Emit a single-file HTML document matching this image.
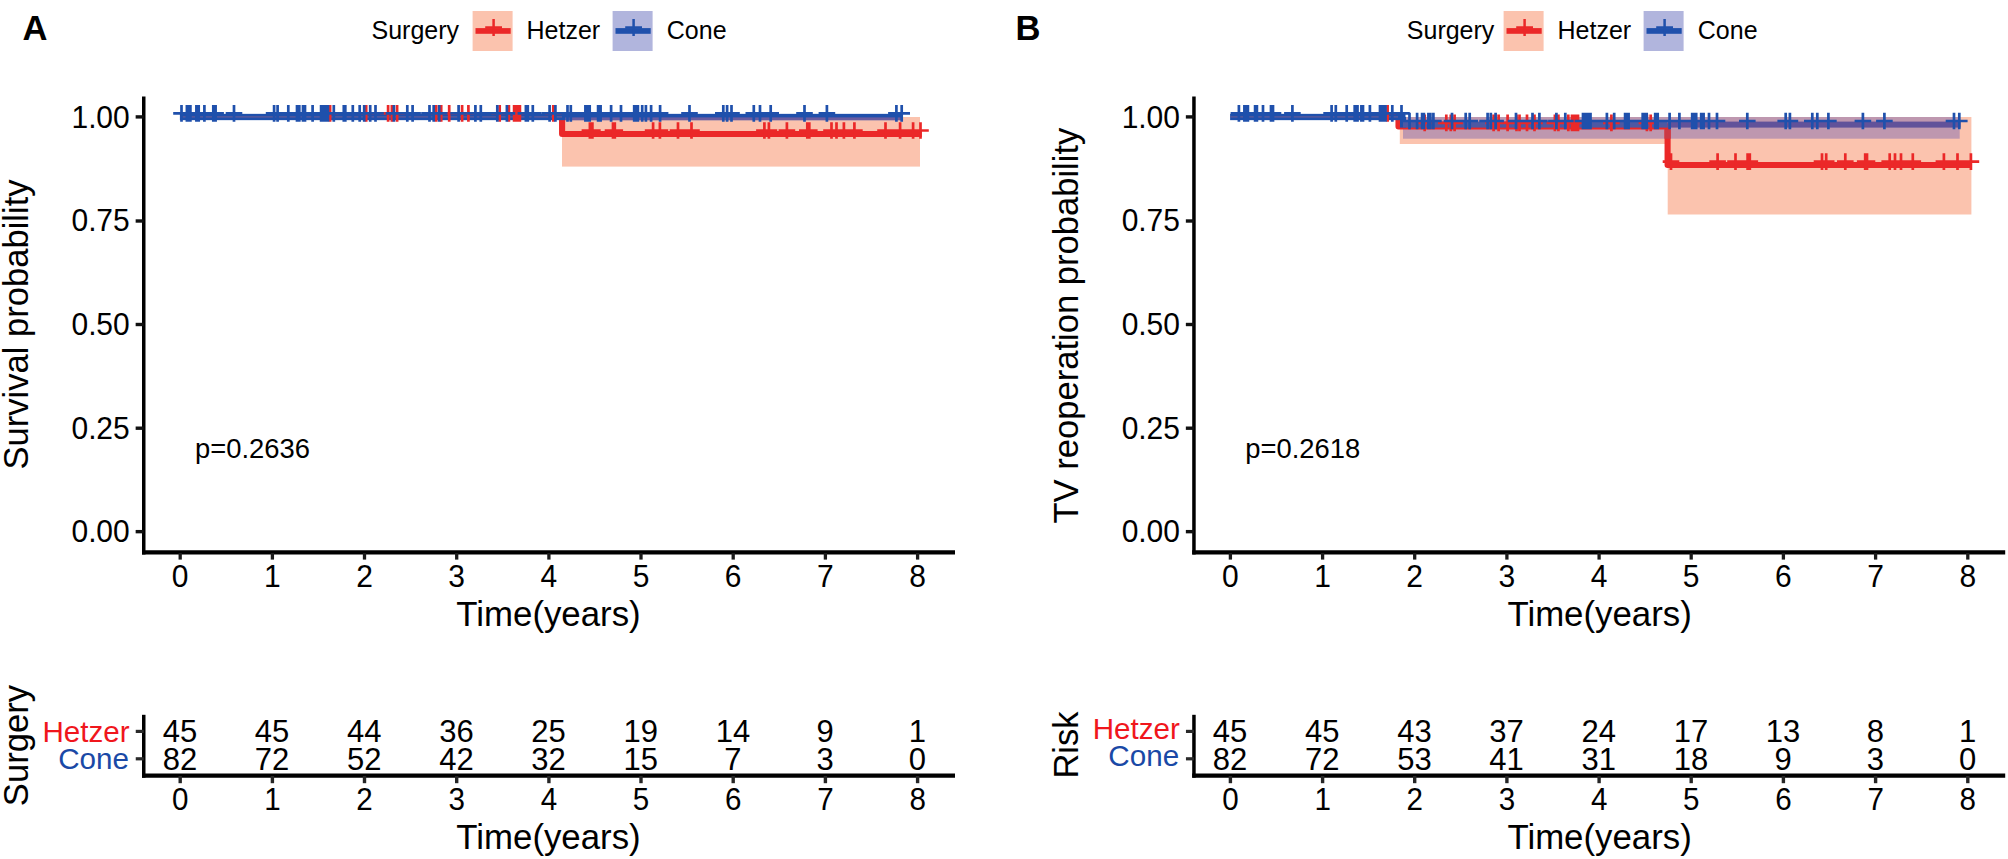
<!DOCTYPE html>
<html lang="en"><head><meta charset="utf-8"><title>Kaplan-Meier curves: Hetzer vs Cone</title>
<style>
html,body{margin:0;padding:0;background:#fff}
body{width:2008px;height:859px;overflow:hidden}
svg{display:block}
svg text{font-family:"Liberation Sans",sans-serif}
</style></head><body>
<svg width="2008" height="859" viewBox="0 0 2008 859">
<rect width="2008" height="859" fill="#fff"/>
<text x="22.5" y="40" font-size="34.6" text-anchor="start" fill="#000" font-weight="bold">A</text>
<text x="371.5" y="39.2" font-size="25" text-anchor="start" fill="#000" >Surgery</text>
<rect x="472.6" y="11" width="40" height="40" fill="#FBC3AE"/>
<rect x="475.5" y="28.1" width="35.2" height="5.7" fill="#EB2828"/>
<path d="M485.2 27.5H502.0M493.6 19.0V36.0" stroke="#EB2828" stroke-width="2.5" fill="none"/>
<text x="526.5" y="39.2" font-size="25" text-anchor="start" fill="#000" >Hetzer</text>
<rect x="612.6" y="11" width="40" height="40" fill="#B1B5DD"/>
<rect x="615.5" y="28.1" width="35.2" height="5.7" fill="#1F50AC"/>
<path d="M625.2 27.5H642.0M633.6 19.0V36.0" stroke="#1F50AC" stroke-width="2.5" fill="none"/>
<text x="666.8" y="39.2" font-size="25" text-anchor="start" fill="#000" >Cone</text>
<rect x="562" y="117" width="358" height="49.6" fill="#FBC3AE"/>
<path d="M562.1 116.9V134.0H921.8" stroke="#EB2828" stroke-width="6.1" fill="none" stroke-linejoin="round"/>
<rect x="179.9" y="113.85" width="723.1" height="6.3" fill="#1F50AC"/>
<rect x="565.2" y="117.4" width="337.8" height="2.75" fill="#6A5BA0"/>
<rect x="180.2" y="116.6" width="381.8" height="0.7" fill="#96628A"/>
<path d="M581.6 130.5H598.2M589.9 122.2V138.8M584.1 130.5H600.7M592.4 122.2V138.8M604.7 130.5H621.3M613.0 122.2V138.8M606.5 130.5H623.1M614.8 122.2V138.8M644.8 130.5H661.4M653.1 122.2V138.8M651.6 130.5H668.2M659.9 122.2V138.8M669.7 130.5H686.3M678.0 122.2V138.8M683.2 130.5H699.8M691.5 122.2V138.8M756.1 130.5H772.7M764.4 122.2V138.8M760.6 130.5H777.2M768.9 122.2V138.8M778.6 130.5H795.2M786.9 122.2V138.8M799.0 130.5H815.6M807.3 122.2V138.8M801.0 130.5H817.6M809.3 122.2V138.8M823.2 130.5H839.8M831.5 122.2V138.8M828.2 130.5H844.8M836.5 122.2V138.8M835.6 130.5H852.2M843.9 122.2V138.8M846.1 130.5H862.7M854.4 122.2V138.8M877.2 130.5H893.8M885.5 122.2V138.8M891.8 130.5H908.4M900.1 122.2V138.8M904.8 130.5H921.4M913.1 122.2V138.8M912.2 130.5H928.8M920.5 122.2V138.8" stroke="#EB2828" stroke-width="2.7" fill="none"/>
<path d="M321.8 113.4H338.4M330.1 105.1V121.7M357.9 113.4H374.5M366.2 105.1V121.7M379.8 113.4H396.4M388.1 105.1V121.7M383.6 113.4H400.2M391.9 105.1V121.7M388.8 113.4H405.4M397.1 105.1V121.7M427.9 113.4H444.5M436.2 105.1V121.7M432.9 113.4H449.5M441.2 105.1V121.7M440.9 113.4H457.5M449.2 105.1V121.7M453.8 113.4H470.4M462.1 105.1V121.7M460.1 113.4H476.7M468.4 105.1V121.7M491.4 113.4H508.0M499.7 105.1V121.7M500.6 113.4H517.2M508.9 105.1V121.7M505.8 113.4H522.4M514.1 105.1V121.7M507.6 113.4H524.2M515.9 105.1V121.7M509.6 113.4H526.2M517.9 105.1V121.7M511.6 113.4H528.2M519.9 105.1V121.7M545.0 113.4H561.6M553.3 105.1V121.7" stroke="#EB2828" stroke-width="2.7" fill="none"/>
<path d="M173.2 113.4H189.8M181.5 105.1V121.7M178.6 113.4H195.2M186.9 105.1V121.7M180.4 113.4H197.0M188.7 105.1V121.7M182.1 113.4H198.7M190.4 105.1V121.7M188.1 113.4H204.7M196.4 105.1V121.7M190.4 113.4H207.0M198.7 105.1V121.7M196.1 113.4H212.7M204.4 105.1V121.7M205.0 113.4H221.6M213.3 105.1V121.7M207.3 113.4H223.9M215.6 105.1V121.7M225.7 113.4H242.3M234.0 105.1V121.7M265.8 113.4H282.4M274.1 105.1V121.7M269.3 113.4H285.9M277.6 105.1V121.7M280.0 113.4H296.6M288.3 105.1V121.7M288.7 113.4H305.3M297.0 105.1V121.7M291.0 113.4H307.6M299.3 105.1V121.7M294.7 113.4H311.3M303.0 105.1V121.7M296.7 113.4H313.3M305.0 105.1V121.7M304.3 113.4H320.9M312.6 105.1V121.7M312.8 113.4H329.4M321.1 105.1V121.7M314.6 113.4H331.2M322.9 105.1V121.7M316.4 113.4H333.0M324.7 105.1V121.7M318.1 113.4H334.7M326.4 105.1V121.7M319.6 113.4H336.2M327.9 105.1V121.7M325.5 113.4H342.1M333.8 105.1V121.7M335.5 113.4H352.1M343.8 105.1V121.7M337.0 113.4H353.6M345.3 105.1V121.7M344.5 113.4H361.1M352.8 105.1V121.7M351.4 113.4H368.0M359.7 105.1V121.7M355.9 113.4H372.5M364.2 105.1V121.7M361.9 113.4H378.5M370.2 105.1V121.7M367.2 113.4H383.8M375.5 105.1V121.7M385.6 113.4H402.2M393.9 105.1V121.7M399.0 113.4H415.6M407.3 105.1V121.7M404.3 113.4H420.9M412.6 105.1V121.7M421.2 113.4H437.8M429.5 105.1V121.7M425.4 113.4H442.0M433.7 105.1V121.7M430.9 113.4H447.5M439.2 105.1V121.7M450.3 113.4H466.9M458.6 105.1V121.7M467.1 113.4H483.7M475.4 105.1V121.7M472.5 113.4H489.1M480.8 105.1V121.7M489.0 113.4H505.6M497.3 105.1V121.7M498.6 113.4H515.2M506.9 105.1V121.7M517.6 113.4H534.2M525.9 105.1V121.7M519.5 113.4H536.1M527.8 105.1V121.7M524.5 113.4H541.1M532.8 105.1V121.7M541.3 113.4H557.9M549.6 105.1V121.7M547.1 113.4H563.7M555.4 105.1V121.7M559.2 113.4H575.8M567.5 105.1V121.7M562.5 113.4H579.1M570.8 105.1V121.7M577.1 113.4H593.7M585.4 105.1V121.7M579.1 113.4H595.7M587.4 105.1V121.7M581.4 113.4H598.0M589.7 105.1V121.7M589.8 113.4H606.4M598.1 105.1V121.7M592.3 113.4H608.9M600.6 105.1V121.7M602.8 113.4H619.4M611.1 105.1V121.7M612.7 113.4H629.3M621.0 105.1V121.7M625.9 113.4H642.5M634.2 105.1V121.7M627.9 113.4H644.5M636.2 105.1V121.7M629.6 113.4H646.2M637.9 105.1V121.7M633.9 113.4H650.5M642.2 105.1V121.7M637.6 113.4H654.2M645.9 105.1V121.7M642.8 113.4H659.4M651.1 105.1V121.7M651.8 113.4H668.4M660.1 105.1V121.7M681.2 113.4H697.8M689.5 105.1V121.7M715.0 113.4H731.6M723.3 105.1V121.7M718.8 113.4H735.4M727.1 105.1V121.7M723.2 113.4H739.8M731.5 105.1V121.7M745.5 113.4H762.1M753.8 105.1V121.7M751.7 113.4H768.3M760.0 105.1V121.7M762.4 113.4H779.0M770.7 105.1V121.7M796.2 113.4H812.8M804.5 105.1V121.7M818.6 113.4H835.2M826.9 105.1V121.7M888.1 113.4H904.7M896.4 105.1V121.7M893.4 113.4H910.0M901.7 105.1V121.7" stroke="#1F50AC" stroke-width="2.7" fill="none"/>
<path d="M143.75 96.5V554.4" stroke="#000" stroke-width="3.5" fill="none"/>
<path d="M142.0 552.4H955" stroke="#000" stroke-width="4.1" fill="none"/>
<path d="M135.65 116.9H143.75" stroke="#111" stroke-width="3.4" fill="none"/>
<text transform="translate(129.5 127.9) scale(1 1.045)" font-size="30" text-anchor="end" letter-spacing="-0.12">1.00</text>
<path d="M135.65 221.0H143.75" stroke="#111" stroke-width="3.4" fill="none"/>
<text transform="translate(129.5 230.7) scale(1 1.045)" font-size="30" text-anchor="end" letter-spacing="-0.12">0.75</text>
<path d="M135.65 324.5H143.75" stroke="#111" stroke-width="3.4" fill="none"/>
<text transform="translate(129.5 335.1) scale(1 1.045)" font-size="30" text-anchor="end" letter-spacing="-0.12">0.50</text>
<path d="M135.65 428.2H143.75" stroke="#111" stroke-width="3.4" fill="none"/>
<text transform="translate(129.5 438.6) scale(1 1.045)" font-size="30" text-anchor="end" letter-spacing="-0.12">0.25</text>
<path d="M135.65 531.65H143.75" stroke="#111" stroke-width="3.4" fill="none"/>
<text transform="translate(129.5 542.1) scale(1 1.045)" font-size="30" text-anchor="end" letter-spacing="-0.12">0.00</text>
<path d="M180.2 553V559.6" stroke="#1a1a1a" stroke-width="3.3" fill="none"/>
<text transform="translate(180.2 586.7) scale(1 1.04)" font-size="30" text-anchor="middle" >0</text>
<path d="M272.4 553V559.6" stroke="#1a1a1a" stroke-width="3.3" fill="none"/>
<text transform="translate(272.4 586.7) scale(1 1.04)" font-size="30" text-anchor="middle" >1</text>
<path d="M364.5 553V559.6" stroke="#1a1a1a" stroke-width="3.3" fill="none"/>
<text transform="translate(364.5 586.7) scale(1 1.04)" font-size="30" text-anchor="middle" >2</text>
<path d="M456.7 553V559.6" stroke="#1a1a1a" stroke-width="3.3" fill="none"/>
<text transform="translate(456.7 586.7) scale(1 1.04)" font-size="30" text-anchor="middle" >3</text>
<path d="M548.9 553V559.6" stroke="#1a1a1a" stroke-width="3.3" fill="none"/>
<text transform="translate(548.9 586.7) scale(1 1.04)" font-size="30" text-anchor="middle" >4</text>
<path d="M641.0 553V559.6" stroke="#1a1a1a" stroke-width="3.3" fill="none"/>
<text transform="translate(641.0 586.7) scale(1 1.04)" font-size="30" text-anchor="middle" >5</text>
<path d="M733.2 553V559.6" stroke="#1a1a1a" stroke-width="3.3" fill="none"/>
<text transform="translate(733.2 586.7) scale(1 1.04)" font-size="30" text-anchor="middle" >6</text>
<path d="M825.4 553V559.6" stroke="#1a1a1a" stroke-width="3.3" fill="none"/>
<text transform="translate(825.4 586.7) scale(1 1.04)" font-size="30" text-anchor="middle" >7</text>
<path d="M917.6 553V559.6" stroke="#1a1a1a" stroke-width="3.3" fill="none"/>
<text transform="translate(917.6 586.7) scale(1 1.04)" font-size="30" text-anchor="middle" >8</text>
<text x="548.5" y="626.0" font-size="34.8" text-anchor="middle" fill="#000" >Time(years)</text>
<text transform="translate(27.8 324.5) rotate(-90)" font-size="34.6" text-anchor="middle">Survival probability</text>
<text x="195" y="458.4" font-size="27.4" text-anchor="start" fill="#000" >p=0.2636</text>
<path d="M143.75 714.8V777.7" stroke="#000" stroke-width="3.5" fill="none"/>
<path d="M142.0 775.6H955" stroke="#000" stroke-width="4.3" fill="none"/>
<path d="M135.75 731.4H143.75" stroke="#2a2a2a" stroke-width="3.2" fill="none"/>
<path d="M135.75 758.8H143.75" stroke="#2a2a2a" stroke-width="3.2" fill="none"/>
<text x="129.6" y="741.8" font-size="29.6" text-anchor="end" fill="#F0161C" >Hetzer</text>
<text x="128.9" y="769.2" font-size="29.6" text-anchor="end" fill="#1A49A6" >Cone</text>
<text x="179.9" y="742.0" font-size="31" text-anchor="middle" fill="#000" >45</text>
<text x="179.9" y="770.3" font-size="31" text-anchor="middle" fill="#000" >82</text>
<path d="M180.2 776V783.2" stroke="#262626" stroke-width="3.4" fill="none"/>
<text transform="translate(180.2 809.5) scale(1 1.03)" font-size="29.6" text-anchor="middle" >0</text>
<text x="272.1" y="742.0" font-size="31" text-anchor="middle" fill="#000" >45</text>
<text x="272.1" y="770.3" font-size="31" text-anchor="middle" fill="#000" >72</text>
<path d="M272.4 776V783.2" stroke="#262626" stroke-width="3.4" fill="none"/>
<text transform="translate(272.4 809.5) scale(1 1.03)" font-size="29.6" text-anchor="middle" >1</text>
<text x="364.2" y="742.0" font-size="31" text-anchor="middle" fill="#000" >44</text>
<text x="364.2" y="770.3" font-size="31" text-anchor="middle" fill="#000" >52</text>
<path d="M364.5 776V783.2" stroke="#262626" stroke-width="3.4" fill="none"/>
<text transform="translate(364.5 809.5) scale(1 1.03)" font-size="29.6" text-anchor="middle" >2</text>
<text x="456.4" y="742.0" font-size="31" text-anchor="middle" fill="#000" >36</text>
<text x="456.4" y="770.3" font-size="31" text-anchor="middle" fill="#000" >42</text>
<path d="M456.7 776V783.2" stroke="#262626" stroke-width="3.4" fill="none"/>
<text transform="translate(456.7 809.5) scale(1 1.03)" font-size="29.6" text-anchor="middle" >3</text>
<text x="548.6" y="742.0" font-size="31" text-anchor="middle" fill="#000" >25</text>
<text x="548.6" y="770.3" font-size="31" text-anchor="middle" fill="#000" >32</text>
<path d="M548.9 776V783.2" stroke="#262626" stroke-width="3.4" fill="none"/>
<text transform="translate(548.9 809.5) scale(1 1.03)" font-size="29.6" text-anchor="middle" >4</text>
<text x="640.8" y="742.0" font-size="31" text-anchor="middle" fill="#000" >19</text>
<text x="640.8" y="770.3" font-size="31" text-anchor="middle" fill="#000" >15</text>
<path d="M641.0 776V783.2" stroke="#262626" stroke-width="3.4" fill="none"/>
<text transform="translate(641.0 809.5) scale(1 1.03)" font-size="29.6" text-anchor="middle" >5</text>
<text x="732.9" y="742.0" font-size="31" text-anchor="middle" fill="#000" >14</text>
<text x="732.9" y="770.3" font-size="31" text-anchor="middle" fill="#000" >7</text>
<path d="M733.2 776V783.2" stroke="#262626" stroke-width="3.4" fill="none"/>
<text transform="translate(733.2 809.5) scale(1 1.03)" font-size="29.6" text-anchor="middle" >6</text>
<text x="825.1" y="742.0" font-size="31" text-anchor="middle" fill="#000" >9</text>
<text x="825.1" y="770.3" font-size="31" text-anchor="middle" fill="#000" >3</text>
<path d="M825.4 776V783.2" stroke="#262626" stroke-width="3.4" fill="none"/>
<text transform="translate(825.4 809.5) scale(1 1.03)" font-size="29.6" text-anchor="middle" >7</text>
<text x="917.3" y="742.0" font-size="31" text-anchor="middle" fill="#000" >1</text>
<text x="917.3" y="770.3" font-size="31" text-anchor="middle" fill="#000" >0</text>
<path d="M917.6 776V783.2" stroke="#262626" stroke-width="3.4" fill="none"/>
<text transform="translate(917.6 809.5) scale(1 1.03)" font-size="29.6" text-anchor="middle" >8</text>
<text x="548.5" y="848.5" font-size="34.8" text-anchor="middle" fill="#000" >Time(years)</text>
<text transform="translate(27.8 745.6) rotate(-90)" font-size="34.6" text-anchor="middle">Surgery</text>
<text x="1015.5" y="40" font-size="34.6" text-anchor="start" fill="#000" font-weight="bold">B</text>
<text x="1406.8" y="39.2" font-size="25" text-anchor="start" fill="#000" >Surgery</text>
<rect x="1503.6" y="11" width="40" height="40" fill="#FBC3AE"/>
<rect x="1506.5" y="28.1" width="35.2" height="5.7" fill="#EB2828"/>
<path d="M1516.2 27.5H1533.0M1524.6 19.0V36.0" stroke="#EB2828" stroke-width="2.5" fill="none"/>
<text x="1557.5" y="39.2" font-size="25" text-anchor="start" fill="#000" >Hetzer</text>
<rect x="1643.6" y="11" width="40" height="40" fill="#B1B5DD"/>
<rect x="1646.5" y="28.1" width="35.2" height="5.7" fill="#1F50AC"/>
<path d="M1656.2 27.5H1673.0M1664.6 19.0V36.0" stroke="#1F50AC" stroke-width="2.5" fill="none"/>
<text x="1697.8" y="39.2" font-size="25" text-anchor="start" fill="#000" >Cone</text>
<path d="M1399.8 117H1971.4V214.5H1667.7V144H1399.8Z" fill="#FBC3AE"/>
<rect x="1403" y="117" width="556.7" height="21.7" fill="#BE97AF"/>
<path d="M1398.5 116.9V126.4H1667.6V165.0H1971.2" stroke="#EB2828" stroke-width="6.1" fill="none" stroke-linejoin="round"/>
<rect x="1230.1" y="113.85" width="175.4" height="6.3" fill="#1F50AC"/>
<rect x="1400" y="117" width="6" height="10.6" fill="#1F50AC"/>
<rect x="1403" y="121.6" width="264.6" height="6" fill="#4E58A3"/>
<rect x="1667.6" y="121.6" width="292.9" height="6" fill="#61529A"/>
<rect x="1230.4" y="116.6" width="167.6" height="0.7" fill="#96628A"/>
<rect x="1664.5" y="129.5" width="6.2" height="9.2" fill="#CC3945"/>
<path d="M1662.7 161.6H1679.3M1671.0 153.3V169.9M1709.3 161.6H1725.9M1717.6 153.3V169.9M1727.2 161.6H1743.8M1735.5 153.3V169.9M1739.3 161.6H1755.9M1747.6 153.3V169.9M1741.5 161.6H1758.1M1749.8 153.3V169.9M1813.7 161.6H1830.3M1822.0 153.3V169.9M1817.9 161.6H1834.5M1826.2 153.3V169.9M1837.0 161.6H1853.6M1845.3 153.3V169.9M1856.9 161.6H1873.5M1865.2 153.3V169.9M1858.7 161.6H1875.3M1867.0 153.3V169.9M1881.4 161.6H1898.0M1889.7 153.3V169.9M1886.7 161.6H1903.3M1895.0 153.3V169.9M1892.7 161.6H1909.3M1901.0 153.3V169.9M1904.5 161.6H1921.1M1912.8 153.3V169.9M1935.6 161.6H1952.2M1943.9 153.3V169.9M1949.2 161.6H1965.8M1957.5 153.3V169.9M1962.6 161.6H1979.2M1970.9 153.3V169.9" stroke="#EB2828" stroke-width="2.7" fill="none"/>
<path d="M1416.4 122.9H1433.0M1424.7 114.6V131.2M1438.0 122.9H1454.6M1446.3 114.6V131.2M1442.5 122.9H1459.1M1450.8 114.6V131.2M1446.3 122.9H1462.9M1454.6 114.6V131.2M1485.3 122.9H1501.9M1493.6 114.6V131.2M1490.3 122.9H1506.9M1498.6 114.6V131.2M1499.3 122.9H1515.9M1507.6 114.6V131.2M1508.2 122.9H1524.8M1516.5 114.6V131.2M1511.2 122.9H1527.8M1519.5 114.6V131.2M1518.7 122.9H1535.3M1527.0 114.6V131.2M1526.2 122.9H1542.8M1534.5 114.6V131.2M1546.6 122.9H1563.2M1554.9 114.6V131.2M1550.1 122.9H1566.7M1558.4 114.6V131.2M1560.0 122.9H1576.6M1568.3 114.6V131.2M1563.7 122.9H1580.3M1572.0 114.6V131.2M1565.7 122.9H1582.3M1574.0 114.6V131.2M1567.7 122.9H1584.3M1576.0 114.6V131.2M1569.7 122.9H1586.3M1578.0 114.6V131.2M1603.1 122.9H1619.7M1611.4 114.6V131.2M1638.6 122.9H1655.2M1646.9 114.6V131.2M1642.4 122.9H1659.0M1650.7 114.6V131.2" stroke="#EB2828" stroke-width="2.7" fill="none"/>
<path d="M1379.3 113.4H1395.9M1387.6 105.1V121.7" stroke="#EB2828" stroke-width="2.7" fill="none"/>
<path d="M1230.6 113.4H1247.2M1238.9 105.1V121.7M1236.1 113.4H1252.7M1244.4 105.1V121.7M1237.8 113.4H1254.4M1246.1 105.1V121.7M1239.6 113.4H1256.2M1247.9 105.1V121.7M1246.8 113.4H1263.4M1255.1 105.1V121.7M1248.6 113.4H1265.2M1256.9 105.1V121.7M1254.7 113.4H1271.3M1263.0 105.1V121.7M1262.7 113.4H1279.3M1271.0 105.1V121.7M1264.7 113.4H1281.3M1273.0 105.1V121.7M1284.1 113.4H1300.7M1292.4 105.1V121.7M1323.3 113.4H1339.9M1331.6 105.1V121.7M1327.5 113.4H1344.1M1335.8 105.1V121.7M1338.4 113.4H1355.0M1346.7 105.1V121.7M1346.4 113.4H1363.0M1354.7 105.1V121.7M1348.0 113.4H1364.6M1356.3 105.1V121.7M1349.2 113.4H1365.8M1357.5 105.1V121.7M1353.1 113.4H1369.7M1361.4 105.1V121.7M1354.7 113.4H1371.3M1363.0 105.1V121.7M1361.6 113.4H1378.2M1369.9 105.1V121.7M1371.7 113.4H1388.3M1380.0 105.1V121.7M1373.7 113.4H1390.3M1382.0 105.1V121.7M1375.7 113.4H1392.3M1384.0 105.1V121.7M1377.2 113.4H1393.8M1385.5 105.1V121.7M1384.0 113.4H1400.6M1392.3 105.1V121.7M1393.2 113.4H1409.8M1401.5 105.1V121.7" stroke="#1F50AC" stroke-width="2.7" fill="none"/>
<path d="M1401.2 121.0H1417.8M1409.5 112.7V129.3M1408.8 121.0H1425.4M1417.1 112.7V129.3M1413.8 121.0H1430.4M1422.1 112.7V129.3M1415.6 121.0H1432.2M1423.9 112.7V129.3M1420.1 121.0H1436.7M1428.4 112.7V129.3M1422.1 121.0H1438.7M1430.4 112.7V129.3M1425.1 121.0H1441.7M1433.4 112.7V129.3M1443.7 121.0H1460.3M1452.0 112.7V129.3M1457.4 121.0H1474.0M1465.7 112.7V129.3M1461.4 121.0H1478.0M1469.7 112.7V129.3M1479.3 121.0H1495.9M1487.6 112.7V129.3M1482.5 121.0H1499.1M1490.8 112.7V129.3M1487.3 121.0H1503.9M1495.6 112.7V129.3M1507.7 121.0H1524.3M1516.0 112.7V129.3M1524.2 121.0H1540.8M1532.5 112.7V129.3M1531.1 121.0H1547.7M1539.4 112.7V129.3M1548.1 121.0H1564.7M1556.4 112.7V129.3M1557.0 121.0H1573.6M1565.3 112.7V129.3M1574.7 121.0H1591.3M1583.0 112.7V129.3M1576.7 121.0H1593.3M1585.0 112.7V129.3M1578.7 121.0H1595.3M1587.0 112.7V129.3M1580.7 121.0H1597.3M1589.0 112.7V129.3M1582.2 121.0H1598.8M1590.5 112.7V129.3M1598.6 121.0H1615.2M1606.9 112.7V129.3M1605.9 121.0H1622.5M1614.2 112.7V129.3M1616.8 121.0H1633.4M1625.1 112.7V129.3M1618.5 121.0H1635.1M1626.8 112.7V129.3M1620.3 121.0H1636.9M1628.6 112.7V129.3M1634.4 121.0H1651.0M1642.7 112.7V129.3M1636.4 121.0H1653.0M1644.7 112.7V129.3M1638.4 121.0H1655.0M1646.7 112.7V129.3M1646.9 121.0H1663.5M1655.2 112.7V129.3M1649.4 121.0H1666.0M1657.7 112.7V129.3M1661.3 121.0H1677.9M1669.6 112.7V129.3M1671.1 121.0H1687.7M1679.4 112.7V129.3M1683.9 121.0H1700.5M1692.2 112.7V129.3M1686.0 121.0H1702.6M1694.3 112.7V129.3M1687.9 121.0H1704.5M1696.2 112.7V129.3M1692.9 121.0H1709.5M1701.2 112.7V129.3M1695.3 121.0H1711.9M1703.6 112.7V129.3M1700.7 121.0H1717.3M1709.0 112.7V129.3M1708.7 121.0H1725.3M1717.0 112.7V129.3M1739.0 121.0H1755.6M1747.3 112.7V129.3M1777.4 121.0H1794.0M1785.7 112.7V129.3M1781.6 121.0H1798.2M1789.9 112.7V129.3M1804.0 121.0H1820.6M1812.3 112.7V129.3M1809.0 121.0H1825.6M1817.3 112.7V129.3M1820.1 121.0H1836.7M1828.4 112.7V129.3M1854.6 121.0H1871.2M1862.9 112.7V129.3M1876.1 121.0H1892.7M1884.4 112.7V129.3M1945.7 121.0H1962.3M1954.0 112.7V129.3M1951.0 121.0H1967.6M1959.3 112.7V129.3" stroke="#1F50AC" stroke-width="2.7" fill="none"/>
<path d="M1193.95 96.5V554.4" stroke="#000" stroke-width="3.5" fill="none"/>
<path d="M1192.2 552.4H2005.2" stroke="#000" stroke-width="4.1" fill="none"/>
<path d="M1185.8500000000001 116.9H1193.95" stroke="#111" stroke-width="3.4" fill="none"/>
<text transform="translate(1179.7 127.9) scale(1 1.045)" font-size="30" text-anchor="end" letter-spacing="-0.12">1.00</text>
<path d="M1185.8500000000001 221.0H1193.95" stroke="#111" stroke-width="3.4" fill="none"/>
<text transform="translate(1179.7 230.7) scale(1 1.045)" font-size="30" text-anchor="end" letter-spacing="-0.12">0.75</text>
<path d="M1185.8500000000001 324.5H1193.95" stroke="#111" stroke-width="3.4" fill="none"/>
<text transform="translate(1179.7 335.1) scale(1 1.045)" font-size="30" text-anchor="end" letter-spacing="-0.12">0.50</text>
<path d="M1185.8500000000001 428.2H1193.95" stroke="#111" stroke-width="3.4" fill="none"/>
<text transform="translate(1179.7 438.6) scale(1 1.045)" font-size="30" text-anchor="end" letter-spacing="-0.12">0.25</text>
<path d="M1185.8500000000001 531.65H1193.95" stroke="#111" stroke-width="3.4" fill="none"/>
<text transform="translate(1179.7 542.1) scale(1 1.045)" font-size="30" text-anchor="end" letter-spacing="-0.12">0.00</text>
<path d="M1230.4 553V559.6" stroke="#1a1a1a" stroke-width="3.3" fill="none"/>
<text transform="translate(1230.4 586.7) scale(1 1.04)" font-size="30" text-anchor="middle" >0</text>
<path d="M1322.6 553V559.6" stroke="#1a1a1a" stroke-width="3.3" fill="none"/>
<text transform="translate(1322.6 586.7) scale(1 1.04)" font-size="30" text-anchor="middle" >1</text>
<path d="M1414.7 553V559.6" stroke="#1a1a1a" stroke-width="3.3" fill="none"/>
<text transform="translate(1414.7 586.7) scale(1 1.04)" font-size="30" text-anchor="middle" >2</text>
<path d="M1506.9 553V559.6" stroke="#1a1a1a" stroke-width="3.3" fill="none"/>
<text transform="translate(1506.9 586.7) scale(1 1.04)" font-size="30" text-anchor="middle" >3</text>
<path d="M1599.1 553V559.6" stroke="#1a1a1a" stroke-width="3.3" fill="none"/>
<text transform="translate(1599.1 586.7) scale(1 1.04)" font-size="30" text-anchor="middle" >4</text>
<path d="M1691.2 553V559.6" stroke="#1a1a1a" stroke-width="3.3" fill="none"/>
<text transform="translate(1691.2 586.7) scale(1 1.04)" font-size="30" text-anchor="middle" >5</text>
<path d="M1783.4 553V559.6" stroke="#1a1a1a" stroke-width="3.3" fill="none"/>
<text transform="translate(1783.4 586.7) scale(1 1.04)" font-size="30" text-anchor="middle" >6</text>
<path d="M1875.6 553V559.6" stroke="#1a1a1a" stroke-width="3.3" fill="none"/>
<text transform="translate(1875.6 586.7) scale(1 1.04)" font-size="30" text-anchor="middle" >7</text>
<path d="M1967.8 553V559.6" stroke="#1a1a1a" stroke-width="3.3" fill="none"/>
<text transform="translate(1967.8 586.7) scale(1 1.04)" font-size="30" text-anchor="middle" >8</text>
<text x="1599.6000000000001" y="626.0" font-size="34.8" text-anchor="middle" fill="#000" >Time(years)</text>
<text transform="translate(1078.0 325.6) rotate(-90)" font-size="34.6" text-anchor="middle">TV reoperation probability</text>
<text x="1245.2" y="458.4" font-size="27.4" text-anchor="start" fill="#000" >p=0.2618</text>
<path d="M1193.95 714.8V777.7" stroke="#000" stroke-width="3.5" fill="none"/>
<path d="M1192.2 775.6H2005.2" stroke="#000" stroke-width="4.3" fill="none"/>
<path d="M1185.95 731.4H1193.95" stroke="#2a2a2a" stroke-width="3.2" fill="none"/>
<path d="M1185.95 758.8H1193.95" stroke="#2a2a2a" stroke-width="3.2" fill="none"/>
<text x="1179.8" y="738.7" font-size="29.6" text-anchor="end" fill="#F0161C" >Hetzer</text>
<text x="1179.1000000000001" y="766.1" font-size="29.6" text-anchor="end" fill="#1A49A6" >Cone</text>
<text x="1230.1" y="742.0" font-size="31" text-anchor="middle" fill="#000" >45</text>
<text x="1230.1" y="770.3" font-size="31" text-anchor="middle" fill="#000" >82</text>
<path d="M1230.4 776V783.2" stroke="#262626" stroke-width="3.4" fill="none"/>
<text transform="translate(1230.4 809.5) scale(1 1.03)" font-size="29.6" text-anchor="middle" >0</text>
<text x="1322.3" y="742.0" font-size="31" text-anchor="middle" fill="#000" >45</text>
<text x="1322.3" y="770.3" font-size="31" text-anchor="middle" fill="#000" >72</text>
<path d="M1322.6 776V783.2" stroke="#262626" stroke-width="3.4" fill="none"/>
<text transform="translate(1322.6 809.5) scale(1 1.03)" font-size="29.6" text-anchor="middle" >1</text>
<text x="1414.4" y="742.0" font-size="31" text-anchor="middle" fill="#000" >43</text>
<text x="1414.4" y="770.3" font-size="31" text-anchor="middle" fill="#000" >53</text>
<path d="M1414.7 776V783.2" stroke="#262626" stroke-width="3.4" fill="none"/>
<text transform="translate(1414.7 809.5) scale(1 1.03)" font-size="29.6" text-anchor="middle" >2</text>
<text x="1506.6" y="742.0" font-size="31" text-anchor="middle" fill="#000" >37</text>
<text x="1506.6" y="770.3" font-size="31" text-anchor="middle" fill="#000" >41</text>
<path d="M1506.9 776V783.2" stroke="#262626" stroke-width="3.4" fill="none"/>
<text transform="translate(1506.9 809.5) scale(1 1.03)" font-size="29.6" text-anchor="middle" >3</text>
<text x="1598.8" y="742.0" font-size="31" text-anchor="middle" fill="#000" >24</text>
<text x="1598.8" y="770.3" font-size="31" text-anchor="middle" fill="#000" >31</text>
<path d="M1599.1 776V783.2" stroke="#262626" stroke-width="3.4" fill="none"/>
<text transform="translate(1599.1 809.5) scale(1 1.03)" font-size="29.6" text-anchor="middle" >4</text>
<text x="1691.0" y="742.0" font-size="31" text-anchor="middle" fill="#000" >17</text>
<text x="1691.0" y="770.3" font-size="31" text-anchor="middle" fill="#000" >18</text>
<path d="M1691.2 776V783.2" stroke="#262626" stroke-width="3.4" fill="none"/>
<text transform="translate(1691.2 809.5) scale(1 1.03)" font-size="29.6" text-anchor="middle" >5</text>
<text x="1783.1" y="742.0" font-size="31" text-anchor="middle" fill="#000" >13</text>
<text x="1783.1" y="770.3" font-size="31" text-anchor="middle" fill="#000" >9</text>
<path d="M1783.4 776V783.2" stroke="#262626" stroke-width="3.4" fill="none"/>
<text transform="translate(1783.4 809.5) scale(1 1.03)" font-size="29.6" text-anchor="middle" >6</text>
<text x="1875.3" y="742.0" font-size="31" text-anchor="middle" fill="#000" >8</text>
<text x="1875.3" y="770.3" font-size="31" text-anchor="middle" fill="#000" >3</text>
<path d="M1875.6 776V783.2" stroke="#262626" stroke-width="3.4" fill="none"/>
<text transform="translate(1875.6 809.5) scale(1 1.03)" font-size="29.6" text-anchor="middle" >7</text>
<text x="1967.5" y="742.0" font-size="31" text-anchor="middle" fill="#000" >1</text>
<text x="1967.5" y="770.3" font-size="31" text-anchor="middle" fill="#000" >0</text>
<path d="M1967.8 776V783.2" stroke="#262626" stroke-width="3.4" fill="none"/>
<text transform="translate(1967.8 809.5) scale(1 1.03)" font-size="29.6" text-anchor="middle" >8</text>
<text x="1599.6000000000001" y="848.5" font-size="34.8" text-anchor="middle" fill="#000" >Time(years)</text>
<text transform="translate(1078.0 745) rotate(-90)" font-size="34.6" text-anchor="middle">Risk</text>
</svg>
</body></html>
